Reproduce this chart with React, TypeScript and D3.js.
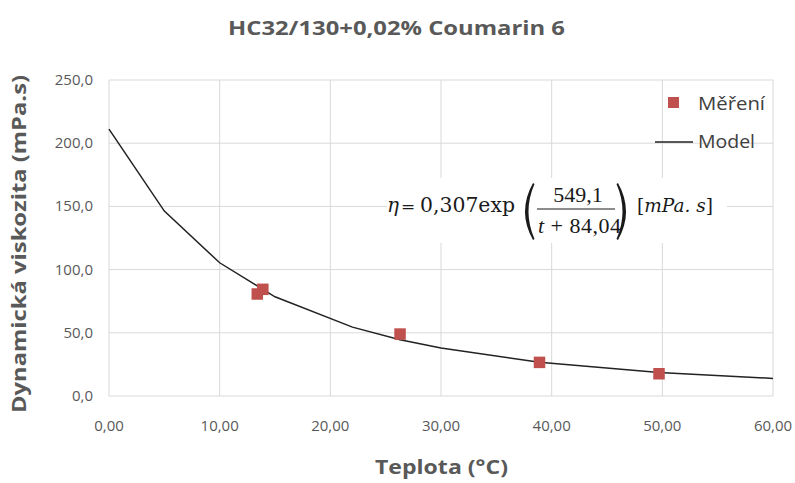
import { useEffect, useRef } from "react";
import * as d3 from "d3";

const WIDTH = 795;
const HEIGHT = 483;
const MARGIN = { top: 80, right: 22, bottom: 87, left: 109 };

// Měření (measured)
const measTemp = [13.4, 13.9, 26.3, 38.9, 49.7];
const measVisc = [80.7, 84.4, 49.0, 26.6, 17.6];

// Model line points
const modelTemp = [0, 5, 10, 15, 22, 26.3, 30, 38.9, 49.7, 60];
const modelVisc = [211.1, 146.3, 105.4, 78.5, 54.5, 44.5, 37.9, 26.7, 18.6, 13.9];

const xTicks = [0, 10, 20, 30, 40, 50, 60];
const yTicks = [0, 50, 100, 150, 200, 250];

const fmt = (d: number, n: number) => d.toFixed(n).replace(".", ",");
const SANS = "'Open Sans', sans-serif";
const GREY = "#595959";

export default function App() {
  const svgRef = useRef<SVGSVGElement>(null);

  useEffect(() => {
    document.body.style.margin = "0";
    if (!svgRef.current) return;
    const svg = d3.select(svgRef.current);
    svg.selectAll("*").remove();

    const innerW = WIDTH - MARGIN.left - MARGIN.right;
    const innerH = HEIGHT - MARGIN.top - MARGIN.bottom;
    const x = d3.scaleLinear().domain([0, 60]).range([0, innerW]);
    const y = d3.scaleLinear().domain([0, 250]).range([innerH, 0]);

    svg.append("rect").attr("width", WIDTH).attr("height", HEIGHT).attr("fill", "#fff");

    // Title
    svg.append("text")
      .attr("x", 228).attr("y", 35)
      .attr("textLength", 337).attr("lengthAdjust", "spacingAndGlyphs")
      .attr("fill", GREY)
      .style("font-family", SANS).style("font-weight", "bold").style("font-size", "19px")
      .text("HC32/130+0,02% Coumarin 6");

    const g = svg.append("g").attr("transform", `translate(${MARGIN.left},${MARGIN.top})`);

    // Gridlines
    g.selectAll("line.gx").data(xTicks).join("line")
      .attr("x1", (d) => x(d)).attr("x2", (d) => x(d))
      .attr("y1", 0).attr("y2", innerH)
      .attr("stroke", "#d9d9d9").attr("stroke-width", 1);
    g.selectAll("line.gy").data(yTicks).join("line")
      .attr("x1", 0).attr("x2", innerW)
      .attr("y1", (d) => y(d)).attr("y2", (d) => y(d))
      .attr("stroke", "#d9d9d9").attr("stroke-width", 1);

    // Tick labels
    g.selectAll("text.tx").data(xTicks).join("text")
      .attr("x", (d) => x(d)).attr("y", innerH + 35)
      .attr("text-anchor", "middle")
      .attr("fill", GREY)
      .style("font-family", SANS).style("font-size", "15px")
      .text((d) => fmt(d, 2));
    g.selectAll("text.ty").data(yTicks).join("text")
      .attr("x", -16).attr("y", (d) => y(d) + 5)
      .attr("text-anchor", "end")
      .attr("fill", GREY)
      .style("font-family", SANS).style("font-size", "15px")
      .text((d) => fmt(d, 1));

    // Axis titles
    svg.append("text")
      .attr("x", 375).attr("y", 474)
      .attr("textLength", 133).attr("lengthAdjust", "spacingAndGlyphs")
      .attr("fill", GREY)
      .style("font-family", SANS).style("font-weight", "bold").style("font-size", "20px")
      .text("Teplota (°C)");
    svg.append("text")
      .attr("transform", "translate(26,413) rotate(-90)")
      .attr("textLength", 338).attr("lengthAdjust", "spacingAndGlyphs")
      .attr("fill", GREY)
      .style("font-family", SANS).style("font-weight", "bold").style("font-size", "19px")
      .text("Dynamická viskozita (mPa.s)");

    // Model line
    const line = d3.line<number>()
      .x((_, i) => x(modelTemp[i]))
      .y((d) => y(d));
    g.append("path")
      .datum(modelVisc)
      .attr("fill", "none")
      .attr("stroke", "#222")
      .attr("stroke-width", 1.5)
      .attr("d", line);

    // Measured points
    const s = 11.5;
    g.selectAll("rect.pt").data(measVisc).join("rect")
      .attr("x", (_, i) => x(measTemp[i]) - s / 2)
      .attr("y", (d) => y(d) - s / 2)
      .attr("width", s).attr("height", s)
      .attr("fill", "#c0504d");

    // Legend
    const leg = svg.append("g").style("font-family", SANS).style("font-size", "18px");
    leg.append("rect").attr("x", 668).attr("y", 97).attr("width", 11).attr("height", 11).attr("fill", "#c0504d");
    leg.append("text").attr("x", 698).attr("y", 110).attr("fill", "#404040")
      .attr("textLength", 67).attr("lengthAdjust", "spacingAndGlyphs").text("Měření");
    leg.append("line").attr("x1", 655).attr("x2", 693).attr("y1", 142).attr("y2", 142)
      .attr("stroke", "#222").attr("stroke-width", 1.5);
    leg.append("text").attr("x", 698).attr("y", 148).attr("fill", "#404040")
      .attr("textLength", 57).attr("lengthAdjust", "spacingAndGlyphs").text("Model");

    // Equation
    const eq = svg.append("g")
      .style("font-family", "'DejaVu Serif', serif")
      .style("font-size", "20px")
      .attr("fill", "#1a1a1a");
    eq.append("rect").attr("x", 387).attr("y", 178).attr("width", 340).attr("height", 65).attr("fill", "#fff");
    eq.append("text").attr("x", 387).attr("y", 212).style("font-style", "italic").text("η");
    eq.append("text").attr("x", 401).attr("y", 212).style("font-size", "17px").text("=");
    eq.append("text").attr("x", 420).attr("y", 212)
      .attr("textLength", 95).attr("lengthAdjust", "spacingAndGlyphs").text("0,307exp");
    // parentheses
    eq.append("path").attr("d", "M533,183 Q517,211.5 533,240 L534.5,239 Q522.5,211.5 534.5,184 Z");
    eq.append("path").attr("d", "M618,183 Q634,211.5 618,240 L616.5,239 Q628.5,211.5 616.5,184 Z");
    const frac = eq.append("g").style("font-family", "'Liberation Serif', serif").style("font-size", "22px");
    frac.append("text").attr("x", 578).attr("y", 202).attr("text-anchor", "middle").text("549,1");
    frac.append("line").attr("x1", 537).attr("x2", 615).attr("y1", 209).attr("y2", 209)
      .attr("stroke", "#1a1a1a").attr("stroke-width", 1.2);
    const den = frac.append("text").attr("x", 538).attr("y", 233)
      .attr("textLength", 83).attr("lengthAdjust", "spacing");
    den.append("tspan").style("font-style", "italic").text("t");
    den.append("tspan").text(" + 84,04");
    const unit = eq.append("text").attr("x", 637).attr("y", 212).style("font-size", "18px")
      .attr("textLength", 76).attr("lengthAdjust", "spacingAndGlyphs");
    unit.append("tspan").text("[");
    unit.append("tspan").style("font-style", "italic").text("mPa. s");
    unit.append("tspan").text("]");
  }, []);

  return <svg ref={svgRef} width={WIDTH} height={HEIGHT} style={{ display: "block" }} />;
}
